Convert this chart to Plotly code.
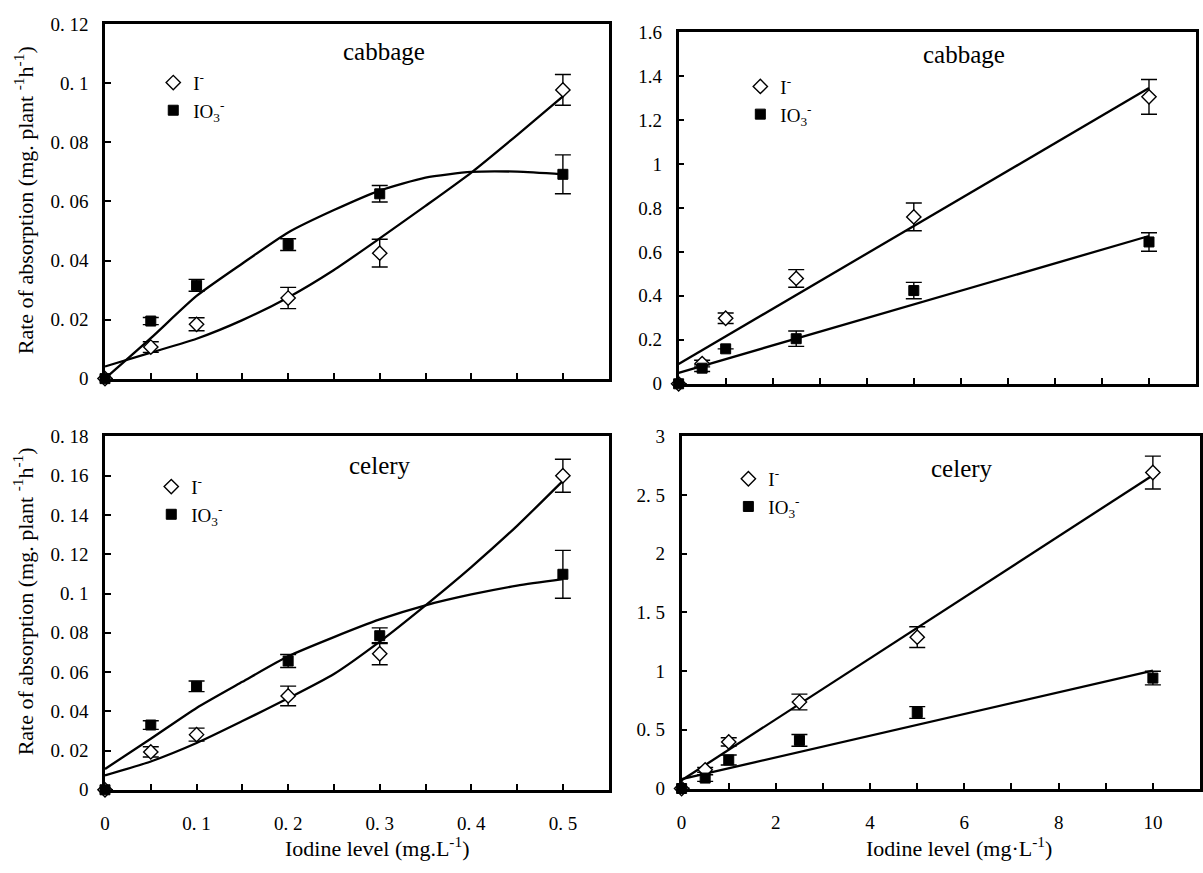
import plotly.graph_objects as go

W, H = 1203, 873
FONT = "Liberation Serif"

# ---------------- data ----------------
# low iodine levels (mg/L) - left panels
x_low = [0, 0.05, 0.1, 0.2, 0.3, 0.5]
# high iodine levels (mg/L) - right panels
x_high = [0, 0.5, 1, 2.5, 5, 10]

# cabbage, low level
cab_low_I = [0, 0.0107, 0.0184, 0.0273, 0.0425, 0.0978]
cab_low_I_err = [0, 0.0018, 0.0022, 0.0036, 0.0047, 0.0052]
cab_low_IO3 = [0, 0.0195, 0.0316, 0.0454, 0.0626, 0.0692]
cab_low_IO3_err = [0, 0.0012, 0.002, 0.002, 0.0028, 0.0066]

# cabbage, high level
cab_high_I = [0, 0.092, 0.298, 0.479, 0.759, 1.305]
cab_high_I_err = [0, 0.015, 0.024, 0.04, 0.063, 0.079]
cab_high_IO3 = [0, 0.071, 0.159, 0.205, 0.424, 0.645]
cab_high_IO3_err = [0, 0.015, 0.0, 0.035, 0.037, 0.042]

# celery, low level
cel_low_I = [0, 0.0193, 0.0281, 0.0478, 0.0693, 0.160]
cel_low_I_err = [0, 0.0026, 0.0033, 0.005, 0.0056, 0.0084]
cel_low_IO3 = [0, 0.033, 0.0527, 0.0656, 0.0785, 0.1098]
cel_low_IO3_err = [0, 0.0022, 0.0027, 0.0033, 0.004, 0.0122]

# celery, high level
cel_high_I = [0, 0.159, 0.397, 0.737, 1.29, 2.693]
cel_high_I_err = [0, 0.02, 0.035, 0.067, 0.088, 0.14]
cel_high_IO3 = [0, 0.089, 0.243, 0.41, 0.648, 0.941]
cel_high_IO3_err = [0, 0.028, 0.042, 0.05, 0.05, 0.058]

# trend lines
fit_x_low = [0, 0.05, 0.1, 0.15, 0.2, 0.25, 0.3, 0.35, 0.4, 0.45, 0.5]
cab_low_I_fit = [0.0041, 0.0088, 0.0135, 0.0198, 0.0275, 0.0368, 0.0475, 0.0585, 0.0698, 0.0825, 0.0956]
cab_low_IO3_fit = [0.0, 0.0137, 0.028, 0.039, 0.0495, 0.0571, 0.0637, 0.0681, 0.0700, 0.0701, 0.0692]
cel_low_I_fit = [0.0073, 0.0144, 0.0238, 0.035, 0.0466, 0.059, 0.0755, 0.094, 0.1135, 0.1345, 0.1574]
cel_low_IO3_fit = [0.0106, 0.026, 0.0417, 0.055, 0.068, 0.0778, 0.0868, 0.094, 0.0995, 0.104, 0.1073]
fit_x_high = [0, 10]
cab_high_I_fit = [0.09, 1.345]
cab_high_IO3_fit = [0.05, 0.672]
cel_high_I_fit = [0.07, 2.67]
cel_high_IO3_fit = [0.08, 1.005]

series_names = ["I<sup>-</sup>", "IO<sub>3</sub><sup>-</sup>"]
panel_titles = ["cabbage", "cabbage", "celery", "celery"]
y_title = "Rate of absorption (mg. plant <sup>-1</sup>h<sup>-1</sup>)"
x_title_left = "Iodine level (mg.L<sup>-1</sup>)"
x_title_right = "Iodine level (mg·L<sup>-1</sup>)"

tl_yvals = [0, 0.02, 0.04, 0.06, 0.08, 0.1, 0.12]
tl_ytext = ["0", "0. 02", "0. 04", "0. 06", "0. 08", "0. 1", "0. 12"]
tr_yvals = [0, 0.2, 0.4, 0.6, 0.8, 1, 1.2, 1.4, 1.6]
tr_ytext = ["0", "0.2", "0.4", "0.6", "0.8", "1", "1.2", "1.4", "1.6"]
bl_yvals = [0, 0.02, 0.04, 0.06, 0.08, 0.1, 0.12, 0.14, 0.16, 0.18]
bl_ytext = ["0", "0. 02", "0. 04", "0. 06", "0. 08", "0. 1", "0. 12", "0. 14", "0. 16", "0. 18"]
br_yvals = [0, 0.5, 1, 1.5, 2, 2.5, 3]
br_ytext = ["0", "0. 5", "1", "1. 5", "2", "2. 5", "3"]
low_xvals = [0, 0.05, 0.1, 0.15, 0.2, 0.25, 0.3, 0.35, 0.4, 0.45, 0.5]
low_xtext = ["0", "", "0. 1", "", "0. 2", "", "0. 3", "", "0. 4", "", "0. 5"]
high_xvals = [0, 1, 2, 3, 4, 5, 6, 7, 8, 9, 10]
high_xtext = ["0", "", "2", "", "4", "", "6", "", "8", "", "10"]

# ---------------- layout geometry (pixels) ----------------
def px_x(p):
    return p / W

def px_y(p):
    return 1 - p / H

panels = [
    dict(xd=[px_x(100.5), px_x(606.7)], yd=[px_y(377.7), px_y(14.7)], xr=[0, 0.55], yr=[0, 0.12]),
    dict(xd=[px_x(677), px_x(1197)], yd=[px_y(383), px_y(22.5)], xr=[0, 11], yr=[0, 1.6]),
    dict(xd=[px_x(100.5), px_x(606.7)], yd=[px_y(799), px_y(437)], xr=[0, 0.55], yr=[0, 0.18]),
    dict(xd=[px_x(680), px_x(1201)], yd=[px_y(797.7), px_y(437)], xr=[0, 11], yr=[0, 3]),
]

fig = go.Figure()

panel_data = [
    (x_low, cab_low_I, cab_low_I_err, cab_low_IO3, cab_low_IO3_err, fit_x_low, cab_low_I_fit, cab_low_IO3_fit, "spline"),
    (x_high, cab_high_I, cab_high_I_err, cab_high_IO3, cab_high_IO3_err, fit_x_high, cab_high_I_fit, cab_high_IO3_fit, "linear"),
    (x_low, cel_low_I, cel_low_I_err, cel_low_IO3, cel_low_IO3_err, fit_x_low, cel_low_I_fit, cel_low_IO3_fit, "spline"),
    (x_high, cel_high_I, cel_high_I_err, cel_high_IO3, cel_high_IO3_err, fit_x_high, cel_high_I_fit, cel_high_IO3_fit, "linear"),
]

legend_pos = [(149, 55), (739, 59), (147, 469), (727, 461)]

for i, (xs, yI, eI, yO, eO, fx, fI, fO, shape) in enumerate(panel_data):
    k = "" if i == 0 else str(i + 1)
    xa, ya = "x" + k, "y" + k
    lg = "legend" + k
    for fy in (fI, fO):
        fig.add_trace(go.Scatter(x=fx, y=fy, mode="lines", xaxis=xa, yaxis=ya,
                                 line=dict(color="black", width=2.3, shape=shape, smoothing=0.6),
                                 showlegend=False, hoverinfo="skip", cliponaxis=False))
    fig.add_trace(go.Scatter(x=xs, y=yI, mode="markers", name=series_names[0], xaxis=xa, yaxis=ya,
                             legend=lg, cliponaxis=False,
                             marker=dict(symbol="diamond", size=11, color="white",
                                         line=dict(color="black", width=1.4)),
                             error_y=dict(type="data", array=eI, color="black", thickness=1.4, width=8)))
    fig.add_trace(go.Scatter(x=xs, y=yO, mode="markers", name=series_names[1], xaxis=xa, yaxis=ya,
                             legend=lg, cliponaxis=False,
                             marker=dict(symbol="square", size=10, color="black",
                                         line=dict(color="black", width=1)),
                             error_y=dict(type="data", array=eO, color="black", thickness=1.4, width=8)))

tick_sets = [
    (low_xvals, [""] * len(low_xvals), tl_yvals, tl_ytext),
    (high_xvals, [""] * len(high_xvals), tr_yvals, tr_ytext),
    (low_xvals, low_xtext, bl_yvals, bl_ytext),
    (high_xvals, high_xtext, br_yvals, br_ytext),
]

layout = dict(
    width=W, height=H, margin=dict(l=0, r=0, t=0, b=0),
    paper_bgcolor="white", plot_bgcolor="white",
    font=dict(family=FONT, size=19, color="black"),
)
for i, p in enumerate(panels):
    k = "" if i == 0 else str(i + 1)
    xv, xt, yv, yt = tick_sets[i]
    layout["xaxis" + k] = dict(domain=p["xd"], range=p["xr"], anchor="y" + k,
                               showline=True, linecolor="black", linewidth=2.5, mirror=True,
                               showgrid=False, zeroline=False, ticks="inside", ticklen=6,
                               tickwidth=2, tickcolor="black", tickmode="array",
                               tickvals=xv, ticktext=xt, ticklabelstandoff=15,
                               tickfont=dict(family=FONT, size=19))
    layout["yaxis" + k] = dict(domain=p["yd"], range=p["yr"], anchor="x" + k,
                               showline=True, linecolor="black", linewidth=2.5, mirror=True,
                               showgrid=False, zeroline=False, ticks="inside", ticklen=6,
                               tickwidth=2, tickcolor="black", tickmode="array",
                               tickvals=yv, ticktext=yt, ticklabelstandoff=10,
                               tickfont=dict(family=FONT, size=19))
    lx, ly = legend_pos[i]
    layout["legend" + k] = dict(x=px_x(lx), y=px_y(ly), xanchor="left", yanchor="top",
                                bgcolor="rgba(0,0,0,0)", font=dict(family=FONT, size=19),
                                itemwidth=30, tracegroupgap=0)

fig.update_layout(**layout)

# panel titles
title_pos = [(381, 43), (964, 46), (377, 467), (962, 470)]
for t, (tx, ty) in zip(panel_titles, title_pos):
    fig.add_annotation(text=t, x=px_x(tx), y=px_y(ty), xref="paper", yref="paper",
                       showarrow=False, font=dict(family=FONT, size=25), xanchor="center", yanchor="middle")

# y axis titles
for cy in (195, 606):
    fig.add_annotation(text=y_title, x=px_x(19), y=px_y(cy), xref="paper", yref="paper",
                       textangle=-90, showarrow=False, font=dict(family=FONT, size=22),
                       xanchor="center", yanchor="middle")

# x axis titles
fig.add_annotation(text=x_title_left, x=px_x(374), y=px_y(858), xref="paper", yref="paper",
                   showarrow=False, font=dict(family=FONT, size=22), xanchor="center", yanchor="middle")
fig.add_annotation(text=x_title_right, x=px_x(959), y=px_y(858), xref="paper", yref="paper",
                   showarrow=False, font=dict(family=FONT, size=22), xanchor="center", yanchor="middle")

fig.write_html("out.html")
